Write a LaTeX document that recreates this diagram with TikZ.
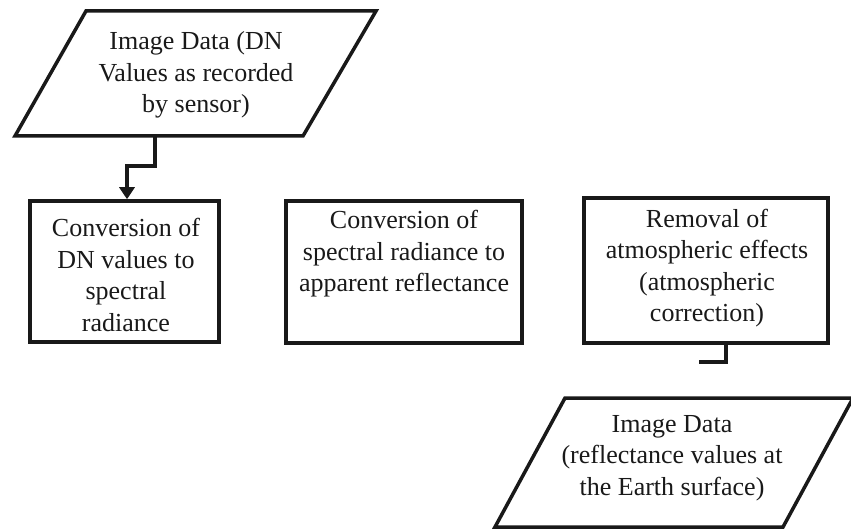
\documentclass[tikz,border=0pt]{standalone}
\usepackage{fontspec}
\setmainfont{Liberation Serif}
\usetikzlibrary{arrows.meta}
\definecolor{ink}{gray}{0.1}
\tikzset{
  outline/.style={draw=ink, line width=3.5pt, line join=miter},
  procbox/.style={outline, rectangle, inner sep=0pt},
  caption/.style={align=center, text=ink, inner sep=0pt,
    font=\fontsize{26pt}{31.5pt}\selectfont},
  conn/.style={draw=ink, line width=3.5pt},
  tip/.style={-{Triangle[length=12pt,width=15pt]}}
}
\begin{document}
\begin{tikzpicture}[x=1pt, y=-1pt]
  \useasboundingbox (0,0) rectangle (851,529);

  % input data parallelogram
  \coordinate (p1tl) at (86,11);
  \coordinate (p1tr) at (376,11);
  \coordinate (p1br) at (303,136);
  \coordinate (p1bl) at (15,136);
  \draw[outline] (p1tl) -- (p1tr) -- (p1br) -- (p1bl) -- cycle;
  \node[caption] (p1text) at (196,75) {Image Data (DN\\Values as recorded\\by sensor)};
  \coordinate (p1out) at (155,136);

  % processing steps
  \node[procbox, minimum width=189pt, minimum height=141pt] (b1) at (124.5,271.5) {};
  \node[caption] (b1text) at (126,275) {Conversion of\\DN values to\\spectral\\radiance};

  \node[procbox, minimum width=236pt, minimum height=142pt] (b2) at (404,272) {};
  \node[caption] (b2text) at (404,254) {Conversion of\\spectral radiance to\\apparent reflectance};

  \node[procbox, minimum width=244pt, minimum height=145pt] (b3) at (706,270.5) {};
  \node[caption] (b3text) at (707,268) {Removal of\\atmospheric effects\\(atmospheric\\correction)};

  % output data parallelogram
  \coordinate (p2tl) at (565,398);
  \coordinate (p2tr) at (853,398);
  \coordinate (p2br) at (783,527);
  \coordinate (p2bl) at (495,527);
  \draw[outline] (p2tl) -- (p2tr) -- (p2br) -- (p2bl) -- cycle;
  \node[caption] (p2text) at (672,458) {Image Data\\(reflectance values at\\the Earth surface)};

  % connectors
  \draw[conn, tip] (p1out) -- ++(0,30) -| ([xshift=2.5pt]b1.north);
  \coordinate (b3end) at (699,362);
  \draw[conn] ([xshift=20pt]b3.south) |- (b3end);
\end{tikzpicture}
\end{document}
